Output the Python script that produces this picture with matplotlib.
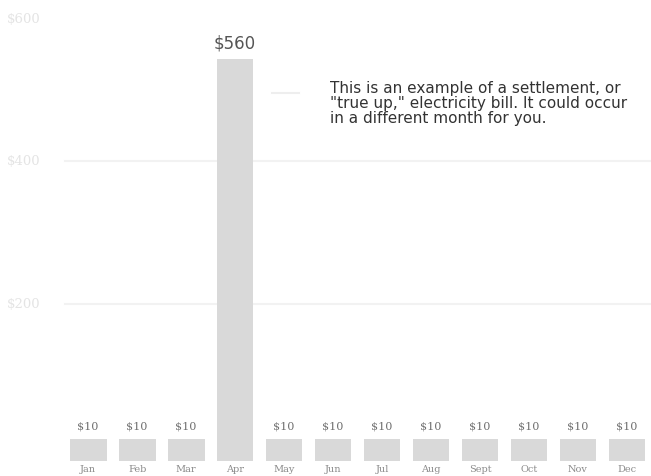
import matplotlib.pyplot as plt

# months and bill amounts (bar heights, labels as printed)
months = ['Jan', 'Feb', 'Mar', 'Apr', 'May', 'Jun', 'Jul', 'Aug', 'Sept', 'Oct', 'Nov', 'Dec']
heights = [30, 30, 30, 560, 30, 30, 30, 30, 30, 30, 30, 30]
bill_labels = ['$10', '$10', '$10', '$560', '$10', '$10', '$10', '$10', '$10', '$10', '$10', '$10']
# faint guide lines, positions as they sit relative to the bars in the picture
grid_values = [219, 418, 617]
grid_labels = ['$200', '$400', '$600']
note = ('This is an example of a settlement, or\n'
        '"true up," electricity bill. It could occur\n'
        'in a different month for you.')

fig = plt.figure(figsize=(6.51, 4.77), dpi=100)
ax = fig.add_axes([0, 0, 1, 1])

x = list(range(len(months)))

# faint gridlines and axis labels
for v, lab in zip(grid_values[:2], grid_labels[:2]):
    ax.axhline(v, xmin=0.1, color='#f2f2f2', lw=1.5, zorder=0)
for v, lab in zip(grid_values, grid_labels):
    ax.text(-1.66, v, lab, color='#e4e4e4', fontsize=9.5, family='DejaVu Serif',
            ha='left', va='center')

ax.bar(x, heights, width=0.75, color='#d9d9d9', edgecolor='none', zorder=2)

# value labels
for i, (h, lab) in enumerate(zip(heights, bill_labels)):
    if h > 100:
        ax.text(i, h + 10, lab, ha='center', va='bottom', fontsize=12,
                color='#555555', family='DejaVu Sans')
    else:
        ax.text(i, h + 13, lab, ha='center', va='bottom', fontsize=8,
                color='#707070', family='DejaVu Serif')

# month labels along the bottom edge
for i, m in enumerate(months):
    ax.text(i, -4, m, ha='center', va='top', fontsize=7, color='#8a8a8a',
            family='DejaVu Serif')

# note next to the big bar
ax.plot([3.75, 4.3], [513, 513], color='#eeeeee', lw=1.5)
ax.text(4.93, 530, note, ha='left', va='top', fontsize=11, color='#333333',
        linespacing=0.98)

ax.set_xlim(-1.8, 11.49)
ax.set_ylim(-20.9, 643.5)
ax.axis('off')

plt.savefig('out.png', dpi=100)
